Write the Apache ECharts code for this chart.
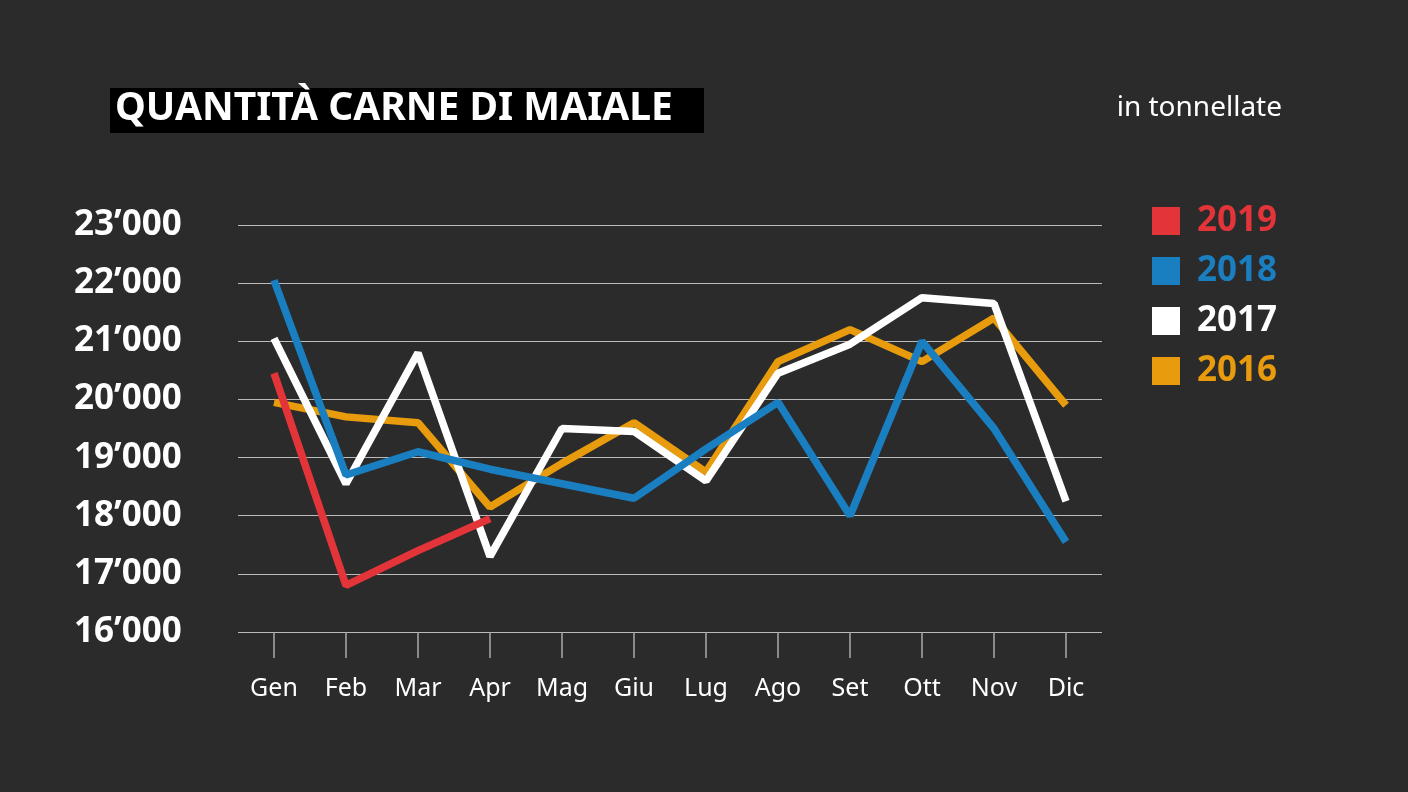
<!DOCTYPE html>
<html><head><meta charset="utf-8">
<script src="https://cdn.jsdelivr.net/npm/echarts@6/dist/echarts.min.js"></script>
<style>html,body{margin:0;padding:0;background:#2b2b2b}#c{width:1408px;height:792px}</style>
</head><body><div id="c"></div>
<script>
const months=['Gen','Feb','Mar','Apr','Mag','Giu','Lug','Ago','Set','Ott','Nov','Dic'];
const y2019=[20450,16800,17400,17950,null,null,null,null,null,null,null,null];
const y2018=[22050,18700,19100,18800,18550,18300,19150,19950,18000,21000,19500,17550];
const y2017=[21050,18550,20800,17300,19500,19450,18600,20450,20950,21750,21650,18250];
const y2016=[19950,19700,19600,18150,18900,19600,18750,20650,21200,20650,21400,19900];
const yTicks=[16000,17000,18000,19000,20000,21000,22000,23000];
const F='Noto Sans';
const chart=echarts.init(document.getElementById('c'));
const mk=(name,data,color)=>({name,type:'line',data,symbol:'none',lineStyle:{width:7.5,color},itemStyle:{color},z:2});
const lt=c=>({color:c,fontFamily:F,fontWeight:'bold',fontSize:35,lineHeight:38,padding:[0,0,0,12]});
chart.setOption({
backgroundColor:'#2b2b2b',
graphic:[
 {type:'rect',left:110,top:88,shape:{width:594,height:45},style:{fill:'#000'}},
 {type:'text',left:115,top:89,style:{text:'QUANTITÀ CARNE DI MAIALE',fill:'#fff',font:'bold 39px "Noto Sans"'}},
 {type:'text',right:126,top:94,style:{text:'in tonnellate',fill:'#fff',font:'28px "Noto Sans"'}}
],
legend:{orient:'vertical',left:1152,top:202,padding:0,itemWidth:28,itemHeight:28,itemGap:12,itemTextGap:16,icon:'rect',
 textStyle:lt('#fff'),
 data:[{name:'2019',textStyle:lt('#e3343a')},{name:'2018',textStyle:lt('#1a7fc1')},{name:'2017',textStyle:lt('#fff')},{name:'2016',textStyle:lt('#e89b0c')}]},
grid:{left:238,right:306,top:225,bottom:160},
xAxis:{type:'category',data:months,boundaryGap:true,axisLine:{show:false},
 axisTick:{show:true,alignWithLabel:true,length:26,lineStyle:{color:'#aaa',width:1.5}},
 axisLabel:{color:'#fff',fontFamily:F,fontSize:25,margin:44}},
yAxis:{type:'value',min:16000,max:23000,interval:1000,
 splitLine:{lineStyle:{color:'#bbb',width:1.2}},
 axisLabel:{color:'#fff',fontFamily:F,fontWeight:'bold',fontSize:35,align:'left',margin:164,
  formatter:v=>yTicks.includes(v)?String(v).replace(/(\d+)(\d{3})$/,'$1’$2'):''}},
series:[mk('2016',y2016,'#e89b0c'),mk('2017',y2017,'#ffffff'),mk('2018',y2018,'#1a7fc1'),mk('2019',y2019,'#e3343a')]
});
</script></body></html>
